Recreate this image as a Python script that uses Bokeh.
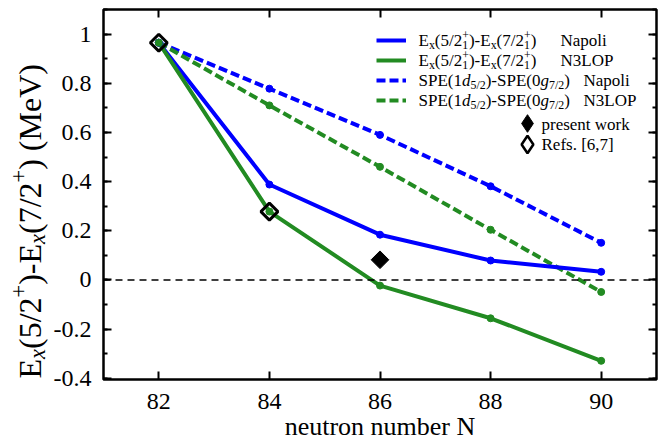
from math import pi, cos, sin
from bokeh.plotting import figure
from bokeh.layouts import row
from bokeh.models import (Range1d, SingleIntervalTicker, LinearAxis, CustomJSTickFormatter,
                          Label, Span, Legend, LegendItem)
from bokeh.embed import file_html
from bokeh.resources import INLINE

# ---------------- data ----------------
N = [82, 84, 86, 88, 90]
ex_napoli = [0.965, 0.388, 0.184, 0.079, 0.033]
ex_n3lop = [0.965, 0.278, -0.023, -0.156, -0.329]
spe_napoli = [0.965, 0.778, 0.59, 0.381, 0.151]
spe_n3lop = [0.965, 0.71, 0.46, 0.204, -0.049]
present_N = [86]
present_E = [0.082]
refs_N = [82, 84]
refs_E = [0.965, 0.278]

FONT = "Liberation Serif"
BLUE = "#0000ff"
GREEN = "#228b22"

W_LAB = 50          # width of the strip carrying the rotated y-axis title
W, H = 665, 448
B_TOP, B_BOT = 9, 69

p = figure(width=W - W_LAB, height=H, x_range=Range1d(81, 91), y_range=Range1d(-0.405, 1.1),
           output_backend="svg", toolbar_location=None,
           min_border_left=102 - W_LAB, min_border_right=9, min_border_top=B_TOP,
           min_border_bottom=B_BOT)
p.grid.visible = False
p.outline_line_color = "black"
p.outline_line_width = 2.5
p.background_fill_color = "white"
p.border_fill_color = "white"

xfmt = CustomJSTickFormatter(code="return String(Math.round(tick));")
yfmt = CustomJSTickFormatter(code="return String(Math.round(tick*10)/10);")
empty = CustomJSTickFormatter(code="return '';")


def style_axis(ax, labels=True):
    ax.axis_line_color = None
    ax.major_tick_in = 8
    ax.major_tick_out = 0
    ax.minor_tick_in = 4
    ax.minor_tick_out = 0
    ax.major_tick_line_width = 2
    ax.minor_tick_line_width = 2
    ax.major_tick_line_color = "black"
    ax.minor_tick_line_color = "black"
    if labels:
        ax.major_label_text_font = FONT
        ax.major_label_text_font_size = "24px"
        ax.major_label_text_color = "black"
    else:
        ax.major_label_text_font_size = "1px"
        ax.major_label_standoff = 0


p.xaxis.ticker = SingleIntervalTicker(interval=2, num_minor_ticks=0)
p.xaxis.formatter = xfmt
p.xaxis.major_label_standoff = 14
style_axis(p.xaxis[0])
p.xaxis.axis_label = "neutron number N"
p.xaxis.axis_label_text_font = FONT
p.xaxis.axis_label_text_font_size = "26px"
p.xaxis.axis_label_text_font_style = "normal"
p.xaxis.axis_label_text_color = "black"
p.xaxis.axis_label_standoff = 0

p.yaxis.ticker = SingleIntervalTicker(interval=0.2, num_minor_ticks=2)
p.yaxis.formatter = yfmt
p.yaxis.major_label_standoff = 12
style_axis(p.yaxis[0])

top_ax = LinearAxis(ticker=SingleIntervalTicker(interval=2, num_minor_ticks=0), formatter=empty)
style_axis(top_ax, labels=False)
p.add_layout(top_ax, "above")
right_ax = LinearAxis(ticker=SingleIntervalTicker(interval=0.2, num_minor_ticks=2), formatter=empty)
style_axis(right_ax, labels=False)
p.add_layout(right_ax, "right")

# zero line
p.add_layout(Span(location=0, dimension="width", line_color="black", line_width=1.5, line_dash="7 5"))

# ---------------- series ----------------
r_sn = p.line(N, spe_napoli, color=BLUE, line_width=4, line_dash="9 4")
r_sg = p.line(N, spe_n3lop, color=GREEN, line_width=4, line_dash="9 4")
r_en = p.line(N, ex_napoli, color=BLUE, line_width=4)
r_eg = p.line(N, ex_n3lop, color=GREEN, line_width=4)
for vals, c in ((spe_napoli, BLUE), (spe_n3lop, GREEN), (ex_napoli, BLUE), (ex_n3lop, GREEN)):
    p.scatter(N, vals, size=7, color=c)

r_refs = p.scatter(refs_N, refs_E, marker="square", angle=pi / 4, size=12,
                   fill_color=None, line_color="black", line_width=3)
r_pres = p.scatter(present_N, present_E, marker="square", angle=pi / 4, size=12.5,
                   fill_color="black", line_color="black", line_width=1)
# key symbols for the legend (the legend draws markers unrotated, so use diamond shapes)
k_refs = p.scatter(refs_N, refs_E, marker="diamond", size=12, fill_color=None,
                   line_color="black", line_width=2.5, visible=False)
k_pres = p.scatter(present_N, present_E, marker="diamond", size=12, fill_color="black",
                   line_color="black", line_width=1, visible=False)

# ---------------- legend samples ----------------
common = dict(orientation="vertical", padding=0, margin=0, label_width=0, label_height=0,
              label_standoff=0, label_text_font_size="1px", border_line_color=None,
              background_fill_alpha=0, inactive_fill_alpha=0)
leg1 = Legend(items=[LegendItem(label=" ", renderers=[r]) for r in (r_en, r_eg, r_sn, r_sg)],
              location=(273, 269.5), glyph_width=30, glyph_height=20, spacing=0, **common)
leg2 = Legend(items=[LegendItem(label=" ", renderers=[k_pres])],
              location=(401.7, 379 - 145.3), glyph_width=44, glyph_height=44, spacing=0, **common)
leg3 = Legend(items=[LegendItem(label=" ", renderers=[k_refs])],
              location=(401.7, 379 - 166), glyph_width=44, glyph_height=44, spacing=0, **common)
for lg in (leg1, leg2, leg3):
    p.add_layout(lg)

# ---------------- rich text helper ----------------
TW = {' ': 250, '(': 333, ')': 333, '+': 564, '-': 333, '.': 250, '/': 278, ',': 250,
      '[': 333, ']': 333, 'E': 611, 'L': 611, 'M': 889, 'N': 722, 'O': 722, 'P': 556,
      'R': 667, 'S': 556, 'V': 722, 'a': 444, 'b': 500, 'e': 444, 'f': 333, 'i': 278,
      'k': 500, 'l': 278, 'm': 778, 'n': 500, 'o': 500, 'p': 500, 'r': 333, 's': 389,
      't': 278, 'u': 500, 'w': 722, 'x': 500}
TWI = {'x': 444, 'd': 500, 'g': 500}
BASE_FIX = 0.28     # Label places glyphs a bit below the requested baseline; lift them back


def tw(s, italic=False):
    tot = 0
    for ch in s:
        if ch.isdigit():
            tot += 500
        elif italic and ch in TWI:
            tot += TWI[ch]
        else:
            tot += TW.get(ch, 500)
    return tot / 1000.0


def rich(fig, parts, ax, ay, ox, oy, size, angle=0.0, sub_shift=0.22):
    ca, sa = cos(angle), sin(angle)
    small = size * 0.7

    def emit(txt, a, b, s, it):
        b = b + BASE_FIX * s
        dx = a * ca - b * sa
        dy = a * sa + b * ca
        fig.add_layout(Label(x=ax, y=ay, x_offset=ox + dx, y_offset=oy + dy, text=txt,
                             angle=angle, text_font=FONT, text_font_size=f"{s:.1f}px",
                             text_font_style="italic" if it else "normal",
                             text_color="black", text_align="left", text_baseline="alphabetic"))

    adv = 0.0
    for txt, mode, it in parts:
        if mode == "n":
            emit(txt, adv, 0, size, it)
            adv += tw(txt, it) * size
        elif mode == "sub":
            emit(txt, adv, -sub_shift * size, small, it)
            adv += tw(txt, it) * small
        elif mode == "sup":
            emit(txt, adv, 0.42 * size, small, it)
            adv += tw(txt, it) * small
        elif mode == "subsup":
            sb, sp = txt
            emit(sb, adv, -sub_shift * size, small, it)
            emit(sp, adv, 0.42 * size, small, it)
            adv += max(tw(sb), tw(sp)) * small
    return adv


# legend texts, anchored at the frame's top-left corner (page px 102, 9)
def off(ix, iy):
    return ix - 102, -(iy - B_TOP)


LS = 17
rows = [39.5, 59.5, 79.5, 99.5]
ex_parts = [("E", "n", False), ("x", "sub", False), ("(5/2", "n", False), (("1", "+"), "subsup", False),
            (")-E", "n", False), ("x", "sub", False), ("(7/2", "n", False), (("1", "+"), "subsup", False),
            (")", "n", False)]
spe_parts = [("SPE(1", "n", False), ("d", "n", True), ("5/2", "sub", False), (")-SPE(0", "n", False),
             ("g", "n", True), ("7/2", "sub", False), (")", "n", False)]
for i, (parts, tail, tx) in enumerate(((ex_parts, "Napoli", 559), (ex_parts, "N3LOP", 559),
                                       (spe_parts, "Napoli", 582), (spe_parts, "N3LOP", 582))):
    ox, oy = off(417, rows[i] + 5)
    rich(p, parts, 81, 1.1, ox, oy, LS)
    ox, oy = off(tx, rows[i] + 5)
    rich(p, [(tail, "n", False)], 81, 1.1, ox, oy, LS)
ox, oy = off(540, 128.5)
rich(p, [("present work", "n", False)], 81, 1.1, ox, oy, LS)
ox, oy = off(540, 149)
rich(p, [("Refs. [6,7]", "n", False)], 81, 1.1, ox, oy, LS)

# ---------------- rotated y-axis title in its own strip ----------------
q = figure(width=W_LAB, height=H, x_range=Range1d(0, 1), y_range=Range1d(0, 1),
           output_backend="svg", toolbar_location=None, x_axis_type=None, y_axis_type=None,
           min_border_left=0, min_border_right=0, min_border_top=B_TOP, min_border_bottom=B_BOT)
q.grid.visible = False
q.outline_line_color = None
q.background_fill_color = "white"
q.border_fill_color = "white"
ylab = [("E", "n", False), ("x", "sub", True), ("(5/2", "n", False), ("+", "sup", False),
        (")-E", "n", False), ("x", "sub", True), ("(7/2", "n", False), ("+", "sup", False),
        (") (MeV)", "n", False)]
# anchor = strip frame bottom-left (page px 0, 379); baseline at x = 38, text starts at y = 378
rich(q, ylab, 0, 0, 38, (H - B_BOT) - 378, 32, angle=pi / 2, sub_shift=0.16)

layout = row(q, p, spacing=0)
open("out.html", "w").write(file_html(layout, INLINE))
